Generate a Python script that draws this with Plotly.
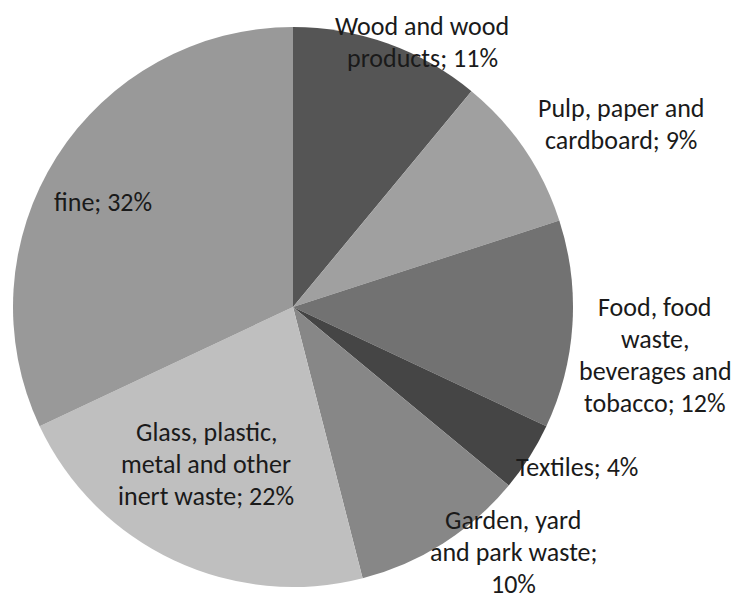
import plotly.graph_objects as go

# ---- data ----
labels = ["Wood and wood products", "Pulp, paper and cardboard",
          "Food, food waste, beverages and tobacco", "Textiles",
          "Garden, yard and park waste", "Glass, plastic, metal and other inert waste",
          "fine"]
values = [11, 9, 12, 4, 10, 22, 32]
colors = ["#555555", "#a0a0a0", "#727272", "#454545", "#878787", "#bfbfbf", "#999999"]

# how each label is wrapped in the picture
wrapped = ["Wood and wood<br>products", "Pulp, paper and<br>cardboard",
           "Food, food<br>waste,<br>beverages and<br>tobacco", "Textiles",
           "Garden, yard<br>and park waste", "Glass, plastic,<br>metal and other<br>inert waste",
           "fine"]
value_sep = [" ", " ", " ", " ", "<br>", " ", " "]

W, H = 738, 594
cx, cy, r = 293, 307, 280

fig = go.Figure(go.Pie(
    labels=labels, values=values, sort=False, direction="clockwise", rotation=0,
    marker=dict(colors=colors, line=dict(width=0)),
    textinfo="none", hoverinfo="label+percent", showlegend=False,
    domain=dict(x=[(cx - r) / W, (cx + r) / W], y=[(H - cy - r) / H, (H - cy + r) / H]),
))

# label anchor (centre of first line, px) and line spacing
anchors = [(422, 26), (621, 108), (655, 307), (577, 467), (513, 520), (206, 432), (103, 202)]
line_h = 32
font = dict(family="Carlito, Calibri, Lato, sans-serif", size=26, color="#1a1a1a")

for i, (lab, v) in enumerate(zip(wrapped, values)):
    text = f"{lab};{value_sep[i]}{v}%"
    lines = text.split("<br>")
    ax, ay = anchors[i]
    for j, ln in enumerate(lines):
        y = ay + j * line_h
        fig.add_annotation(x=ax / W, y=1 - y / H, xref="paper", yref="paper",
                           text=ln.strip(), showarrow=False, xanchor="center", yanchor="middle",
                           font=font)

fig.update_layout(width=W, height=H, margin=dict(l=0, r=0, t=0, b=0),
                  paper_bgcolor="white", plot_bgcolor="white")
fig.write_html("out.html", config={"displayModeBar": False},
               post_script="document.body.style.margin='0';")
